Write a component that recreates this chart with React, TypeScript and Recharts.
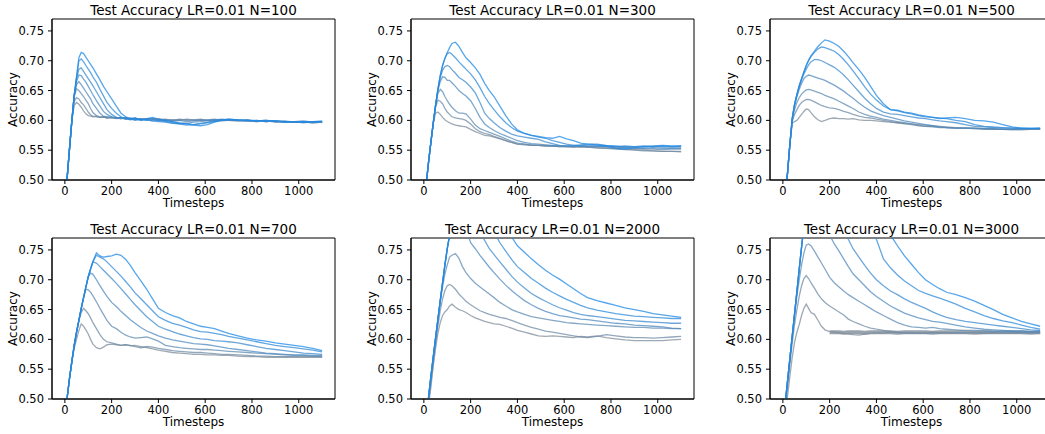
import React from 'react';
import { LineChart, Line, XAxis, YAxis, ReferenceArea } from 'recharts';

// Timesteps grid (x values)
const TIMESTEPS = [
  0, 10, 20, 30, 40, 50, 60, 70, 80, 90, 100,
  110, 120, 135, 150, 165, 180, 200,
  220, 240, 260, 280, 300, 325, 350, 375, 400,
  430, 460, 490, 520, 550, 580, 610, 640, 670, 700,
  740, 780, 820, 860, 900, 940, 980, 1020, 1060, 1100,
];
const X_TICKS = [0, 200, 400, 600, 800, 1000];
// accuracy values are stored in thousandths (600 = 0.600)
const Y_TICKS = [500, 550, 600, 650, 700, 750];

const TITLES = [
  'Test Accuracy LR=0.01 N=100',
  'Test Accuracy LR=0.01 N=300',
  'Test Accuracy LR=0.01 N=500',
  'Test Accuracy LR=0.01 N=700',
  'Test Accuracy LR=0.01 N=2000',
  'Test Accuracy LR=0.01 N=3000',
];

// ---- N=100 ----
const N100_1 = [450,505,553,600,625,630,627,622,616,611,608, 607,606,607,605,606,604,605, 603,604,602,603,601,603,602,601,603, 601,600,602,601,600,601,600,599,601,600, 599,600,599,598,599,598,597,598,597,597];
const N100_2 = [450,505,553,600,632,638,636,630,626,620,614, 609,607,606,605,606,604,605, 604,603,605,602,603,602,601,603,602, 600,601,600,602,601,600,599,600,601,600, 599,600,598,599,598,597,598,597,598,597];
const N100_3 = [450,505,553,600,640,653,650,645,640,634,628, 620,613,608,606,605,606,604, 605,603,604,602,603,601,602,603,601, 602,600,601,600,601,602,600,601,599,600, 600,599,598,599,597,598,597,598,596,597];
const N100_4 = [450,505,553,600,642,660,665,660,654,648,642, 636,628,620,612,607,606,605, 604,603,605,602,604,601,603,602,600, 601,599,600,598,599,600,601,602,600,601, 600,599,600,598,599,597,598,597,596,597];
const N100_5 = [450,505,553,600,642,665,676,675,669,664,657, 650,643,633,624,615,610,606, 604,605,603,604,602,603,601,602,600, 599,598,596,595,597,598,600,601,602,601, 600,601,599,600,598,597,598,599,597,598];
const N100_6 = [450,505,553,600,642,670,686,688,682,676,670, 664,658,648,638,628,618,610, 605,604,602,603,600,602,601,599,600, 598,596,594,595,593,595,597,599,601,602, 601,600,599,600,598,599,597,598,597,598];
const N100_7 = [450,505,553,600,642,672,700,703,698,692,686, 680,673,664,652,641,630,620, 612,606,603,601,602,600,601,599,598, 597,595,594,592,593,594,596,598,600,601, 600,599,600,598,599,597,598,596,598,597];
const N100_8 = [450,505,553,600,642,674,705,714,712,706,700, 694,688,678,668,657,648,636, 624,612,606,603,604,601,603,605,602, 600,598,595,594,592,591,593,597,600,602, 601,600,599,600,599,598,597,598,598,599];

// ---- N=300 ----
const N300_1 = [455,493,530,563,595,612,614,610,605,601,598, 596,594,592,591,590,589,585, 581,578,575,574,572,569,566,563,560, 560,558,558,557,557,556,556,556,555,555, 554,553,553,552,551,550,549,548,548,547];
const N300_2 = [455,493,530,563,595,622,634,632,628,620,614, 610,606,604,603,602,600,594, 586,581,578,576,573,570,566,563,560, 559,558,558,557,557,556,556,555,556,555, 554,553,552,551,550,549,549,548,548,548];
const N300_3 = [455,493,530,563,595,625,645,652,648,640,633, 627,622,616,612,612,611,602, 592,586,583,580,577,573,569,565,562, 560,559,558,558,557,557,556,556,557,556, 556,555,555,554,553,552,552,551,552,552];
const N300_4 = [455,493,530,563,595,625,650,665,673,672,667, 667,663,657,650,645,641,633, 620,605,594,588,583,578,574,570,566, 563,561,560,559,558,557,557,556,557,556, 556,556,555,555,554,553,554,553,553,553];
const N300_5 = [455,493,530,563,595,625,652,672,684,690,692, 690,685,679,672,668,664,656, 646,630,612,603,596,588,582,577,574, 572,570,568,564,561,558,557,558,557,558, 558,557,556,557,556,555,556,555,555,555];
const N300_6 = [455,493,530,563,595,625,652,675,692,704,712, 714,711,705,698,692,686,678, 668,655,640,628,618,606,596,588,582, 578,575,572,570,566,563,560,558,559,560, 560,558,557,555,556,557,556,557,556,557];
const N300_7 = [455,493,530,563,595,625,652,675,692,704,714, 722,729,731,724,714,705,697, 688,677,662,650,640,624,608,594,584, 578,575,573,571,570,573,569,566,562,560, 559,557,553,552,554,556,557,558,557,557];

// ---- N=500 ----
const N500_1 = [440,475,512,560,595,598,600,605,610,615,619, 618,613,606,601,598,600,603, 604,603,603,602,603,601,600,600,599, 598,597,596,595,594,593,592,591,590,589, 588,587,587,586,586,585,585,585,586,586];
const N500_2 = [440,475,512,560,598,610,618,625,630,633,635, 635,634,631,628,625,623,621, 620,618,615,613,610,607,605,604,602, 600,598,596,594,593,591,590,590,589,588, 587,587,586,586,585,585,585,584,585,585];
const N500_3 = [440,475,512,560,600,618,630,638,644,648,651, 652,651,649,647,645,642,639, 636,632,628,624,620,614,610,607,605, 602,600,598,596,594,592,590,589,588,588, 587,587,586,585,585,585,584,585,585,585];
const N500_4 = [440,475,512,560,602,625,640,652,662,670,674, 676,675,673,671,669,667,663, 659,654,649,643,637,629,622,616,612, 608,605,602,599,597,595,593,591,589,588, 587,587,587,586,586,585,585,586,586,586];
const N500_5 = [440,475,512,560,603,627,643,657,668,678,686, 693,698,702,702,700,697,693, 689,683,676,668,659,648,637,628,620, 614,611,610,608,606,604,603,601,599,598, 596,593,590,589,588,587,587,586,586,586];
const N500_6 = [440,475,512,560,603,627,643,658,670,681,692, 700,707,714,720,723,722,719, 716,710,702,693,683,670,656,644,634, 624,618,616,613,611,608,606,605,604,603, 600,598,593,590,589,588,587,587,586,587];
const N500_7 = [440,475,512,560,603,627,643,658,670,681,692, 701,708,716,724,730,735,733, 729,724,716,707,697,685,672,657,642, 628,618,617,614,612,609,607,605,603,604, 605,603,600,599,597,593,589,587,587,587];

// ---- N=700 ----
const N700_1 = [470,503,535,563,585,600,615,626,622,616,609, 600,592,586,584,587,591,592, 591,590,591,589,590,588,586,584,582, 580,578,577,576,575,575,574,574,573,573, 572,571,571,570,570,570,570,570,570,570];
const N700_2 = [470,503,535,563,590,612,632,645,652,648,643, 636,628,618,608,600,596,594, 592,590,591,590,588,586,588,587,585, 583,581,580,579,578,578,577,576,575,575, 574,573,572,572,571,571,571,571,571,571];
const N700_3 = [470,503,535,563,590,612,632,652,670,684,683, 679,673,663,652,642,632,622, 618,612,607,604,602,603,604,601,597, 590,588,586,585,584,583,583,582,581,580, 579,578,577,576,575,574,573,573,572,572];
const N700_4 = [470,503,535,563,590,612,632,652,670,688,705, 711,709,700,690,681,672,662, 655,647,640,633,627,620,614,610,606, 602,599,597,595,593,592,591,589,587,585, 583,581,579,577,576,575,574,574,573,573];
const N700_5 = [470,503,535,563,590,612,632,652,670,688,705, 718,730,728,722,716,710,702, 694,685,676,667,658,648,638,630,622, 617,613,609,606,603,601,600,598,597,596, 594,591,588,585,583,581,579,577,576,575];
const N700_6 = [470,503,535,563,590,612,632,652,670,688,705, 718,730,741,738,735,730,722, 714,706,697,688,678,668,658,648,638, 632,627,624,620,616,613,612,610,608,605, 602,599,596,593,590,588,586,584,582,579];
const N700_7 = [470,503,535,563,590,612,632,652,670,688,705, 718,731,745,740,738,739,740, 743,741,734,724,712,698,684,668,652, 645,640,636,630,626,622,620,618,614,610, 606,602,599,597,594,592,590,588,585,581];

// ---- N=2000 ----
const N2000_1 = [440,462,490,520,555,585,610,628,640,646,650, 656,659,654,650,648,645,640, 636,633,630,628,626,625,622,619,615, 612,609,606,605,606,605,604,603,605,604, 606,603,601,599,598,598,598,598,599,600];
const N2000_2 = [440,465,495,527,560,592,622,648,668,682,690, 692,690,684,676,670,664,658, 653,648,645,642,640,637,635,632,628, 624,620,617,614,612,610,608,606,604,603, 605,608,606,604,603,603,602,603,604,605];
const N2000_3 = [440,472,503,537,570,602,633,662,688,710,725, 738,741,744,736,722,712,702, 694,688,682,676,670,662,656,650,646, 642,638,636,634,632,630,628,627,626,625, 624,623,622,621,620,620,619,619,618,618];
const N2000_4 = [440,472,503,537,570,602,633,665,695,725,752, 775,790,800,800,795,785,762, 752,741,731,721,712,701,691,682,674, 665,658,652,647,643,640,638,636,634,633, 631,629,627,626,624,623,622,621,619,618];
const N2000_5 = [440,472,503,537,570,602,633,665,695,725,752, 775,792,808,815,815,810,800, 790,779,766,752,742,730,718,706,696, 686,677,670,664,658,653,649,645,642,640, 638,636,634,632,631,630,629,628,627,627];
const N2000_6 = [440,472,503,537,570,602,633,665,695,725,752, 775,793,810,820,825,825,822, 818,812,804,795,780,762,748,734,722, 712,702,694,686,679,673,667,662,657,653, 649,646,643,641,639,638,637,636,635,635];
const N2000_7 = [440,472,503,537,570,602,633,665,695,725,752, 775,795,815,825,830,830,830, 828,825,820,814,806,797,788,772,757, 746,735,725,716,708,701,693,685,677,670, 665,661,657,653,650,647,643,641,639,637];

// ---- N=3000 ----
const N3000_1 = [440,472,505,538,570,595,612,625,640,652,659, 652,645,642,632,622,616,613, 612,611,610,609,608,607,609,610,611, 611,612,611,611,610,611,611,612,611,611, 611,611,612,611,611,611,611,611,611,611];
const N3000_2 = [440,480,520,558,594,625,650,672,690,702,707, 702,695,686,676,668,662,656, 651,646,641,634,630,626,622,619,617, 615,613,612,611,611,610,610,611,611,611, 611,611,611,610,611,611,611,611,611,611];
const N3000_3 = [455,493,530,568,605,640,672,700,725,745,758, 760,757,748,738,728,718,704, 695,688,681,675,670,664,658,652,646, 640,634,628,624,621,620,619,620,618,617, 616,615,615,614,613,613,613,612,612,612];
const N3000_4 = [455,493,530,568,605,643,680,718,755,790,820, 840,850,855,850,835,810,775, 760,748,735,722,710,700,690,680,672, 664,656,650,644,640,636,633,630,629,627, 624,621,619,617,616,615,614,614,613,613];
const N3000_5 = [455,493,530,568,605,643,680,718,755,790,820, 840,855,865,868,865,860,850, 838,822,790,768,752,738,724,711,700, 690,681,675,668,662,657,652,646,641,637, 633,630,628,626,624,622,620,618,616,615];
const N3000_6 = [455,493,530,568,605,643,680,718,755,790,820, 840,860,875,880,882,880,875, 868,860,850,840,830,815,800,785,768, 735,720,708,698,690,682,677,673,669,665, 659,652,646,640,635,631,628,624,620,617];
const N3000_7 = [455,493,530,568,605,643,680,718,755,790,820, 840,860,880,890,895,898,900, 890,885,878,870,862,852,841,830,815, 795,775,757,740,726,712,700,692,685,679, 675,670,664,657,650,642,636,630,626,622];
const N3000_FLAT = [null,null,null,null,null,null,null,null,null,null,null, null,null,null,null,null,null,612, 612,612,611,612,612,612,611,612,612, 612,612,611,612,612,612,612,611,612,612, 612,612,611,612,612,612,612,612,611,612];

// gray -> blue palettes
const PAL8 = ['#7f8c99', '#718ba4', '#638baf', '#558aba', '#488ac4', '#3a89cf', '#2c89da', '#1e88e5'];
const PAL7 = ['#7f8c99', '#6f8ba6', '#5f8bb2', '#4f8abf', '#3e89cc', '#2e89d8', '#1e88e5'];

const SERIES = [
  [N100_1, N100_2, N100_3, N100_4, N100_5, N100_6, N100_7, N100_8],
  [N300_1, N300_2, N300_3, N300_4, N300_5, N300_6, N300_7],
  [N500_1, N500_2, N500_3, N500_4, N500_5, N500_6, N500_7],
  [N700_1, N700_2, N700_3, N700_4, N700_5, N700_6, N700_7],
  [N2000_1, N2000_2, N2000_3, N2000_4, N2000_5, N2000_6, N2000_7],
  [N3000_1, N3000_2, N3000_3, N3000_4, N3000_5, N3000_6, N3000_7],
];

// layout: plot-area top-left corners
const LAYOUT = [
  { left: 52, top: 19 },
  { left: 411, top: 19 },
  { left: 770, top: 19 },
  { left: 52, top: 238 },
  { left: 411, top: 238 },
  { left: 770, top: 238 },
];

const AXW = 52; // y axis width
const PW = 283; // plot width
const PH = 161; // plot height
const MT = 19;
const XH = 32;
const FONT = "'DejaVu Sans', sans-serif";

function Panel({ idx }: { idx: number }) {
  const series = SERIES[idx];
  const colors = series.length === 8 ? PAL8 : PAL7;
  const flat = idx === 5 ? N3000_FLAT : null;
  const rows = TIMESTEPS.map((t, i) => {
    const r: any = { t };
    series.forEach((s, k) => {
      r['s' + k] = s[i];
    });
    if (flat) r.flat = flat[i];
    return r;
  });
  const pos = LAYOUT[idx];
  const W = AXW + PW + 10;
  const H = MT + PH + XH;
  const cx = AXW + PW / 2;
  return (
    <div style={{ position: 'absolute', left: pos.left - AXW, top: pos.top - MT, width: W, height: H }}>
      <LineChart width={W} height={H} data={rows} margin={{ top: MT, right: 10, bottom: 0, left: 0 }}>
        <XAxis
          dataKey="t"
          type="number"
          domain={[-55, 1155]}
          ticks={X_TICKS}
          interval={0}
          allowDataOverflow
          height={XH}
          tickSize={4}
          tickMargin={2.5}
          stroke="#000"
          tick={{ fill: '#000', fontSize: 11.5, fontFamily: FONT }}
        />
        <YAxis
          type="number"
          domain={[500, 770]}
          ticks={Y_TICKS}
          interval={0}
          allowDataOverflow
          width={AXW}
          tickSize={4}
          tickMargin={4}
          stroke="#000"
          tickFormatter={(v: number) => (v / 1000).toFixed(2)}
          tick={{ fill: '#000', fontSize: 11.5, fontFamily: FONT }}
        />
        {flat && (
          <Line
            dataKey="flat"
            stroke="#8d99a5"
            strokeOpacity={0.9}
            strokeWidth={4}
            dot={false}
            isAnimationActive={false}
            type="linear"
          />
        )}
        {series.map((_, k) => (
          <Line
            key={k}
            dataKey={'s' + k}
            stroke={colors[k]}
            strokeOpacity={0.75}
            strokeWidth={1.3}
            dot={false}
            isAnimationActive={false}
            type="linear"
          />
        ))}
        <ReferenceArea x1={-55} x2={1155} y1={500} y2={770} fill="none" fillOpacity={0} stroke="#000" strokeWidth={1} />
      </LineChart>
      <svg
        width={W}
        height={H}
        style={{ position: 'absolute', left: 0, top: 0, overflow: 'visible', pointerEvents: 'none' }}
      >
        <text x={cx} y={MT - 4} textAnchor="middle" fontSize={13.5} fontFamily={FONT} fill="#000">
          {TITLES[idx]}
        </text>
        <text x={cx} y={MT + PH + 27} textAnchor="middle" fontSize={12} fontFamily={FONT} fill="#000">
          Timesteps
        </text>
        <text
          transform={`translate(${AXW - 35}, ${MT + PH / 2}) rotate(-90)`}
          textAnchor="middle"
          fontSize={12}
          fontFamily={FONT}
          fill="#000"
        >
          Accuracy
        </text>
      </svg>
    </div>
  );
}

export default function App() {
  return (
    <div
      style={{
        position: 'fixed',
        left: 0,
        top: 0,
        width: 1045,
        height: 434,
        overflow: 'hidden',
        background: '#fff',
        fontFamily: FONT,
      }}
    >
      {[0, 1, 2, 3, 4, 5].map((i) => (
        <Panel key={i} idx={i} />
      ))}
    </div>
  );
}
